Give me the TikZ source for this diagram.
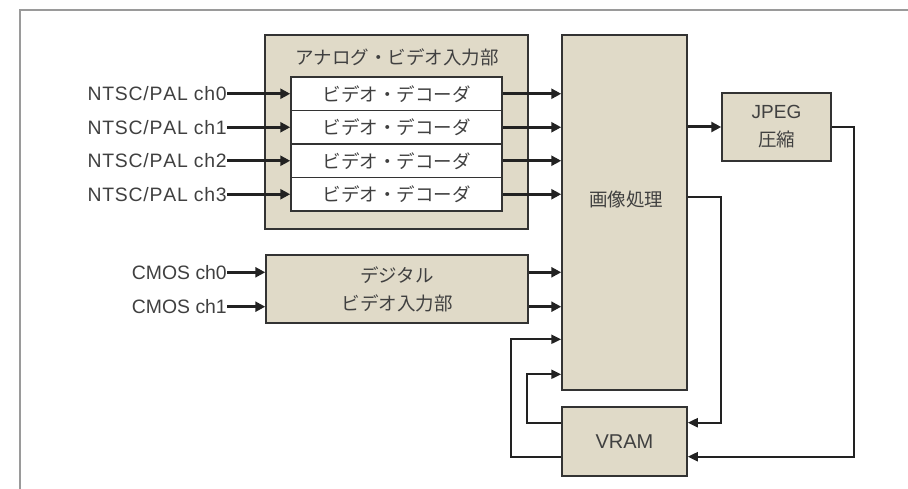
\documentclass[tikz,border=0pt]{standalone}
\usepackage{fontspec}
\setmainfont{Liberation Sans}[Kerning=Off]
\newfontfamily\ntsc{Liberation Sans}[Kerning=Off,LetterSpace=4]
\newfontfamily\jp{Noto Sans CJK JP}
\usetikzlibrary{arrows.meta}
\definecolor{boxfill}{HTML}{E0DAC8}
\definecolor{boxline}{HTML}{333333}
\definecolor{txt}{HTML}{404040}
\definecolor{framecol}{HTML}{9A9A9A}
\definecolor{wire}{HTML}{222222}
\begin{document}
\begin{tikzpicture}[x=1pt,y=-1pt,
  blk/.style={draw=boxline, fill=boxfill, line width=1.5pt, inner sep=0pt, text=txt},
  dec/.style={draw=boxline, fill=white, line width=1.5pt, minimum width=211pt, minimum height=33.5pt, inner sep=0pt, text=txt, font=\jp\fontsize{18.5}{22}\selectfont},
  jtext/.style={text=txt, inner sep=0pt, font=\jp\fontsize{18.5}{22}\selectfont},
  lab/.style={anchor=east, text=txt, inner sep=0pt, text height=13.8pt, text depth=0pt, font=\fontsize{19.4}{22}\selectfont},
  nlab/.style={lab, font=\ntsc\fontsize{19.4}{22}\selectfont},
  sig/.style={draw=wire, line width=3pt, -{Triangle[length=10pt,width=10pt]}},
  fb/.style={draw=wire, line width=2pt, line join=miter, -{Triangle[length=10pt,width=9pt]}}
]
\useasboundingbox (0,0) rectangle (908,489);
\draw[framecol, line width=1.5pt] (20,489) -- (20,10) -- (908,10);

% analog input block
\node[blk, minimum width=263pt, minimum height=194pt] (ana) at (396.5,132) {};
\node[jtext] (anat) at (397,57) {アナログ・ビデオ入力部};
\node[dec] (d0) at (396.5,93.75) {ビデオ・デコーダ};
\node[dec] (d1) at (396.5,127.25) {ビデオ・デコーダ};
\node[dec] (d2) at (396.5,160.75) {ビデオ・デコーダ};
\node[dec] (d3) at (396.5,194.25) {ビデオ・デコーダ};

% image processing
\node[blk, minimum width=125pt, minimum height=355pt] (img) at (624.5,212.5) {};
\node[jtext] (imgt) at (626,199) {画像処理};

% JPEG
\node[blk, minimum width=109pt, minimum height=68pt, align=center, font=\fontsize{19}{28}\selectfont] (jpeg) at (776.5,127) {JPEG\\{\jp\fontsize{18.5}{28}\selectfont 圧縮}};

% digital input
\node[blk, minimum width=262pt, minimum height=68pt, align=center, font=\jp\fontsize{18.5}{28}\selectfont] (dig) at (397,289) {デジタル\\ビデオ入力部};

% VRAM
\node[blk, minimum width=125pt, minimum height=69pt, font=\fontsize{20}{24}\selectfont] (vram) at (624.5,441.5) {VRAM};

% labels
\node[nlab] (l0) at (227,93.75) {NTSC/PAL ch0};
\node[nlab] (l1) at (227,127.25) {NTSC/PAL ch1};
\node[nlab] (l2) at (227,160.75) {NTSC/PAL ch2};
\node[nlab] (l3) at (227,194.25) {NTSC/PAL ch3};
\node[lab] (c0) at (227,272.3) {CMOS ch0};
\node[lab] (c1) at (227,306.7) {CMOS ch1};

% signal arrows
\foreach \i in {0,1,2,3}{
  \draw[sig] (l\i.east) -- (d\i.west);
  \draw[sig] (d\i.east) -- (d\i.east -| img.west);
}
\draw[sig] (c0.east) -- (c0.east -| dig.west);
\draw[sig] (c1.east) -- (c1.east -| dig.west);
\draw[sig] (dig.east |- c0.east) -- (img.west |- c0.east);
\draw[sig] (dig.east |- c1.east) -- (img.west |- c1.east);
\draw[sig] (img.east |- jpeg.west) -- (jpeg.west);

% feedback wires
\coordinate (a1) at (721,196.7);
\coordinate (a2) at (721,422.7);
\draw[fb] (img.east |- a1) -- (a1) -- (a2) -- (vram.east |- a2);
\coordinate (b1) at (854,456.7);
\draw[fb] (jpeg.east) -| (b1) -- (vram.east |- b1);
\coordinate (v1) at (527,422.7);
\coordinate (v2) at (527,374.3);
\draw[fb] (vram.west |- v1) -- (v1) -- (v2) -- (img.west |- v2);
\coordinate (w1) at (510.7,456.7);
\coordinate (w2) at (510.7,339.3);
\draw[fb] (vram.west |- w1) -- (w1) -- (w2) -- (img.west |- w2);
\end{tikzpicture}
\end{document}
